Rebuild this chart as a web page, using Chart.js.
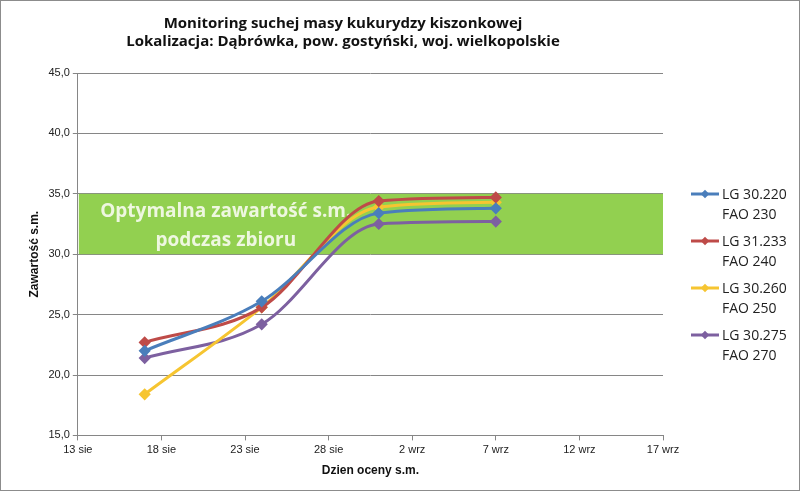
<!DOCTYPE html>
<html><head><meta charset="utf-8">
<script src="https://cdn.jsdelivr.net/npm/chart.js@4"></script>
<style>
body{margin:0;background:#fff;font-family:Calibri,'Liberation Sans','DejaVu Sans',sans-serif}
#wrap{position:relative;width:798px;height:489px;border:1px solid #8c8c8c}
#legend{position:absolute;left:690px;top:183px;font:14px 'Open Sans',sans-serif;color:#222;line-height:20px}
.li{display:flex;align-items:flex-start;height:47px}
.li svg{margin-top:4px;margin-right:3px}
</style></head><body>
<div id="wrap"><canvas id="c" width="798" height="489"></canvas><div id="legend"></div></div>
<script>
const tickLabels=['13 sie','18 sie','23 sie','28 sie','2 wrz','7 wrz','12 wrz','17 wrz'];
const days=[4,11,18,25]; // days after 13 sie
const seriesNames=[['LG 30.220','FAO 230'],['LG 31.233','FAO 240'],['LG 30.260','FAO 250'],['LG 30.275','FAO 270']];
const colors=['#4a7ebb','#be4b48','#f6c531','#7d60a0'];
const s1=[22.0,26.1,33.4,33.8];
const s2=[22.7,25.6,34.4,34.7];
const s3=[18.4,25.6,33.9,34.3];
const s4=[21.4,24.2,32.5,32.7];
const band=[30,35];
const values=[s1,s2,s3,s4];
const bandPlugin={id:'band',beforeDatasetsDraw(ch){const{ctx,chartArea:a,scales:{y}}=ch;
 const t=y.getPixelForValue(band[1]),b=y.getPixelForValue(band[0]);
 ctx.save();ctx.fillStyle='#92d050';ctx.fillRect(a.left+1,t,a.right-a.left-1,b-t);
 ctx.fillStyle='#eef7e0';ctx.font='bold 19px "Open Sans",sans-serif';ctx.textAlign='center';
 ctx.fillText('Optymalna zawartość s.m.',a.left+148,t+23);ctx.fillText('podczas zbioru',a.left+148,t+52);ctx.restore();}};
new Chart(document.getElementById('c'),{type:'line',
 data:{datasets:values.map((v,i)=>({label:seriesNames[i].join(' '),data:v.map((y,j)=>({x:days[j],y})),
  borderColor:colors[i],backgroundColor:colors[i],borderWidth:3,pointStyle:'rectRot',pointRadius:4,cubicInterpolationMode:'monotone'}))},
 options:{responsive:false,animation:false,
  layout:{padding:{left:22,right:136,top:10,bottom:8}},
  plugins:{legend:{display:false},tooltip:{enabled:false},
   title:{display:true,text:['Monitoring suchej masy kukurydzy kiszonkowej','Lokalizacja: Dąbrówka, pow. gostyński, woj. wielkopolskie'],
    color:'#111',font:{size:15,weight:'bold',family:'"Open Sans",sans-serif'},padding:{top:4,bottom:22},lineHeight:1.35}},
  scales:{x:{type:'linear',min:0,max:35,ticks:{stepSize:5,callback:v=>tickLabels[v/5],color:'#222',font:{size:11}},
    grid:{drawOnChartArea:false,color:'#868686',tickLength:5},border:{color:'#868686'},
    title:{display:true,text:'Dzien oceny s.m.',font:{weight:'bold',size:12},color:'#111'}},
   y:{min:15,max:45,ticks:{stepSize:5,callback:v=>v.toFixed(1).replace('.',','),color:'#222',font:{size:11}},
    grid:{color:'#868686',tickLength:5},border:{color:'#868686'},
    title:{display:true,text:'Zawartość s.m.',font:{weight:'bold',size:12},color:'#111'}}}},
 plugins:[bandPlugin]});
document.getElementById('legend').innerHTML=seriesNames.map((n,i)=>`<div class="li"><svg width="28" height="12"><line x1="0" y1="6" x2="28" y2="6" stroke="${colors[i]}" stroke-width="3"/><rect x="11" y="3" width="6" height="6" fill="${colors[i]}" transform="rotate(45 14 6)"/></svg><div>${n[0]}<br>${n[1]}</div></div>`).join('');
</script></body></html>
